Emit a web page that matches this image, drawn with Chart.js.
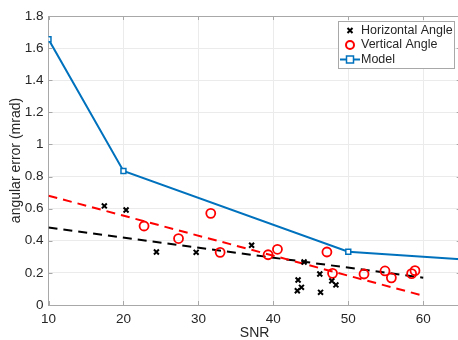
<!DOCTYPE html>
<html>
<head>
<meta charset="utf-8">
<script src="https://cdn.jsdelivr.net/npm/chart.js@4.4.1/dist/chart.umd.min.js"></script>
<style>
  html, body { margin: 0; padding: 0; background: #fff; overflow: hidden; }
  #wrap { width: 467px; height: 340px; }
</style>
</head>
<body>
<div id="wrap"><canvas id="errChart" width="467" height="340"></canvas></div>
<script>
// horizontal angle measurements
const hAngleSnr = [17.45, 20.35, 24.4, 29.7, 37.1, 43.2, 43.3, 43.75, 44.1, 46.2, 46.3, 47.8, 48.35];
const hAngleErr = [0.617, 0.592, 0.330, 0.328, 0.372, 0.089, 0.156, 0.110, 0.268, 0.193, 0.079, 0.150, 0.125];

// vertical angle measurements
const vAngleSnr = [22.75, 27.35, 31.65, 32.9, 39.3, 40.55, 47.15, 47.9, 52.1, 54.9, 55.75, 58.45, 58.9];
const vAngleErr = [0.492, 0.414, 0.571, 0.328, 0.313, 0.347, 0.330, 0.197, 0.193, 0.212, 0.169, 0.195, 0.214];

// model curve
const modelSnr = [10, 20, 50, 65];
const modelErr = [1.655, 0.835, 0.332, 0.285];

// linear fits
const hFitSnr = [10, 60];
const hFitErr = [0.482, 0.170];
const vFitSnr = [10, 60];
const vFitErr = [0.681, 0.058];

const xTicks = [10, 20, 30, 40, 50, 60];

const FONT = "'Liberation Sans', Arial, Helvetica, sans-serif";
const TXT = "#262626";
const BLUE = "#0072BD";
const RED = "#FF0000";

function pts(xs, ys) {
  return xs.map((x, i) => ({ x: x, y: ys[i] }));
}

// box, inward ticks and legend like the matlab axes
const axesExtras = {
  id: "axesExtras",
  afterDraw(chart) {
    const ctx = chart.ctx;
    const a = chart.chartArea;
    const xs = chart.scales.x, ys = chart.scales.y;
    ctx.save();
    ctx.strokeStyle = "#a8a8a8";
    ctx.lineWidth = 1;
    ctx.beginPath();
    ctx.moveTo(a.left, a.top + 0.5);
    ctx.lineTo(a.right, a.top + 0.5);
    ctx.moveTo(a.right - 0.5, a.top);
    ctx.lineTo(a.right - 0.5, a.bottom);
    xTicks.forEach(v => {
      const px = Math.round(xs.getPixelForValue(v)) + 0.5;
      ctx.moveTo(px, a.bottom); ctx.lineTo(px, a.bottom - 4);
      ctx.moveTo(px, a.top); ctx.lineTo(px, a.top + 4);
    });
    ys.ticks.forEach(t => {
      const py = Math.round(ys.getPixelForValue(t.value)) + 0.5;
      ctx.moveTo(a.left, py); ctx.lineTo(a.left + 4, py);
      ctx.moveTo(a.right, py); ctx.lineTo(a.right - 4, py);
    });
    ctx.stroke();

    // legend
    const bx = 338.5, by = 21.5, bw = 116, bh = 47;
    ctx.fillStyle = "#fff";
    ctx.fillRect(bx, by, bw, bh);
    ctx.strokeStyle = "#a8a8a8";
    ctx.strokeRect(bx, by, bw, bh);
    ctx.font = "12.5px " + FONT;
    ctx.fillStyle = TXT;
    ctx.textBaseline = "middle";
    ctx.textAlign = "left";
    const rows = [30.5, 45, 59.5];
    const labels = ["Horizontal Angle", "Vertical Angle", "Model"];
    labels.forEach((t, i) => ctx.fillText(t, 361, rows[i]));
    const mx = 350;
    // cross
    ctx.strokeStyle = "#000";
    ctx.lineWidth = 2;
    ctx.beginPath();
    ctx.moveTo(mx - 2.5, rows[0] - 2.5); ctx.lineTo(mx + 2.5, rows[0] + 2.5);
    ctx.moveTo(mx + 2.5, rows[0] - 2.5); ctx.lineTo(mx - 2.5, rows[0] + 2.5);
    ctx.stroke();
    // circle
    ctx.strokeStyle = RED;
    ctx.beginPath();
    ctx.arc(mx, rows[1], 4, 0, Math.PI * 2);
    ctx.stroke();
    // line + square
    ctx.strokeStyle = BLUE;
    ctx.beginPath();
    ctx.moveTo(340, rows[2]); ctx.lineTo(360, rows[2]);
    ctx.stroke();
    ctx.fillStyle = "#fff";
    ctx.fillRect(mx - 3.5, rows[2] - 3.5, 7, 7);
    ctx.lineWidth = 1.5;
    ctx.strokeRect(mx - 3.5, rows[2] - 3.5, 7, 7);
    ctx.restore();
  }
};

const config = {
  type: "scatter",
  data: {
    datasets: [
      {
        label: "Model",
        data: pts(modelSnr, modelErr),
        showLine: true,
        borderColor: BLUE,
        borderWidth: 2,
        pointStyle: "rect",
        pointRadius: [3.5, 3.5, 3.5, 0],
        pointBorderWidth: 1.5,
        pointBorderColor: BLUE,
        pointBackgroundColor: "#fff",
        order: 1,
      },
      {
        label: "hfit",
        data: pts(hFitSnr, hFitErr),
        showLine: true,
        borderColor: "#000",
        borderWidth: 2,
        borderDash: [9, 6],
        pointRadius: 0,
        order: 4,
      },
      {
        label: "vfit",
        data: pts(vFitSnr, vFitErr),
        showLine: true,
        borderColor: RED,
        borderWidth: 2,
        borderDash: [9, 6],
        pointRadius: 0,
        order: 3,
      },
      {
        label: "Horizontal Angle",
        data: pts(hAngleSnr, hAngleErr),
        pointStyle: "crossRot",
        pointRadius: 3.5,
        borderColor: "#000",
        pointBorderWidth: 2,
        order: 2,
      },
      {
        label: "Vertical Angle",
        data: pts(vAngleSnr, vAngleErr),
        pointStyle: "circle",
        pointRadius: 4.5,
        borderColor: RED,
        backgroundColor: "rgba(0,0,0,0)",
        pointBorderWidth: 1.8,
        order: 2,
      },
    ],
  },
  options: {
    responsive: false,
    animation: false,
    layout: { padding: { top: 16, left: 0, right: 0, bottom: 0 } },
    plugins: {
      legend: { display: false },
      tooltip: { enabled: false },
    },
    scales: {
      x: {
        type: "linear",
        min: 10,
        max: 65,
        afterBuildTicks: (s) => { s.ticks = xTicks.map(v => ({ value: v })); },
        afterFit: (s) => { s.height = 35; },
        grid: { color: "#ebebeb", drawTicks: false },
        border: { display: true, color: "#a8a8a8" },
        ticks: { color: TXT, font: { family: FONT, size: 13.5 }, padding: 6 },
        title: { display: true, text: "SNR", color: TXT, font: { family: FONT, size: 14, lineHeight: 1 }, padding: { top: 0, bottom: 0 } },
      },
      y: {
        min: 0,
        max: 1.8,
        afterFit: (s) => { s.width = 48.5; },
        grid: { color: "#ebebeb", drawTicks: false },
        border: { display: true, color: "#a8a8a8" },
        ticks: {
          stepSize: 0.2,
          color: TXT,
          font: { family: FONT, size: 13.5 },
          padding: 5,
          callback: (v) => String(+v.toFixed(1)),
        },
        title: { display: true, text: "angular error (mrad)", color: TXT, font: { family: FONT, size: 14 }, padding: { top: 8, bottom: 0 } },
      },
    },
  },
  plugins: [axesExtras],
};

let myChart = new Chart(document.getElementById("errChart"), config);
</script>
</body>
</html>
